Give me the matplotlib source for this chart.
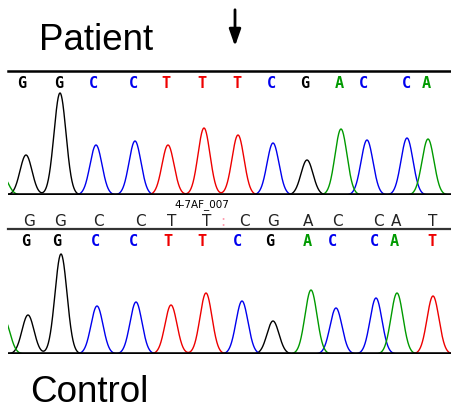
import numpy as np
import matplotlib
matplotlib.use('Agg')
from matplotlib import pyplot as plt

# base colours as in the trace viewer
base_colors = {'G': '#000000', 'C': '#0000ee', 'T': '#ee0000', 'A': '#009a00', ':': '#ff9fb0'}

# patient trace: peak position (scan), peak height, base channel
top_pos = [2, 26, 60, 96, 135, 168, 204, 238, 273, 307, 341, 367, 407, 428]
top_height = [20, 40, 102, 50, 54, 50, 67, 60, 52, 35, 66, 55, 57, 56]
top_base = ['A', 'G', 'G', 'C', 'C', 'T', 'T', 'T', 'C', 'G', 'A', 'C', 'C', 'A']

# control trace
bot_pos = [4, 28, 61, 97, 136, 171, 206, 242, 273, 311, 336, 376, 397, 433]
bot_height = [35, 39, 100, 48, 52, 49, 61, 53, 33, 64, 46, 56, 61, 58]
bot_base = ['A', 'G', 'G', 'C', 'C', 'T', 'T', 'C', 'G', 'A', 'C', 'C', 'A', 'T']

# base calls
top_calls = list('GGCCTTTCGACCA')
top_call_x = [22, 59, 93, 133, 166, 202, 237, 271, 305, 339, 363, 406, 426]
ref_calls = list('GGCCTT:CGACCAT')
ref_call_x = [29, 60, 98, 140, 172, 207, 223, 244, 273, 308, 337, 378, 396, 433]
bot_calls = list('GGCCTTCGACCAT')
bot_call_x = [26, 57, 95, 133, 168, 202, 237, 270, 307, 332, 374, 394, 432]

W, H = 451, 410
fig = plt.figure(figsize=(W / 100, H / 100), dpi=100)

# overlay for text and rules, in pixel units
ov = fig.add_axes([0, 0, 1, 1])
ov.set_xlim(0, W)
ov.set_ylim(H, 0)
ov.axis('off')


def trace(ax, pos, height, base):
    x = np.linspace(0, W, 1800)
    sig = 6.0
    for b in ['G', 'C', 'T', 'A']:
        y = np.zeros_like(x)
        for p, h, bb in zip(pos, height, base):
            if bb == b:
                y += h * np.exp(-(x - p) ** 2 / (2 * sig ** 2))
        ax.plot(x, y, color=base_colors[b], lw=1.0)
    ax.axhline(0, color='black', lw=2.6, zorder=5)
    ax.set_xlim(8, W)
    ax.set_ylim(0, 110)
    ax.axis('off')


ax1 = fig.add_axes([8 / W, (H - 196) / H, (W - 8) / W, 110 / H])
trace(ax1, top_pos, top_height, top_base)
ax2 = fig.add_axes([8 / W, (H - 355) / H, (W - 8) / W, 110 / H])
trace(ax2, bot_pos, bot_height, bot_base)

# rules
ov.plot([8, W], [72, 72], color='black', lw=1.8)
ov.plot([8, W], [230, 230], color='#333333', lw=1.6)

for c, x in zip(top_calls, top_call_x):
    ov.text(x, 83, c, color=base_colors[c], fontsize=11, fontweight='bold',
            family='DejaVu Sans Mono', ha='center', va='center')
for c, x in zip(ref_calls, ref_call_x):
    ov.text(x, 222, c, color='#222222' if c != ':' else base_colors[c], fontsize=11,
            family='DejaVu Sans', ha='center', va='center')
for c, x in zip(bot_calls, bot_call_x):
    ov.text(x, 242, c, color=base_colors[c], fontsize=11, fontweight='bold',
            family='DejaVu Sans Mono', ha='center', va='center')

ov.text(202, 205, '4-7AF_007', fontsize=7.5, family='DejaVu Sans', ha='center', va='center')

ov.text(39, 50, 'Patient', fontsize=26.5, family='Liberation Sans', ha='left', va='baseline')
ov.text(30, 402, 'Control', fontsize=26.5, family='Liberation Sans', ha='left', va='baseline')

ov.annotate('', xy=(235, 50), xytext=(235, 8),
            arrowprops=dict(arrowstyle='-|>,head_width=0.35,head_length=1.0', color='black', lw=2))

fig.savefig('out.png', dpi=100)
